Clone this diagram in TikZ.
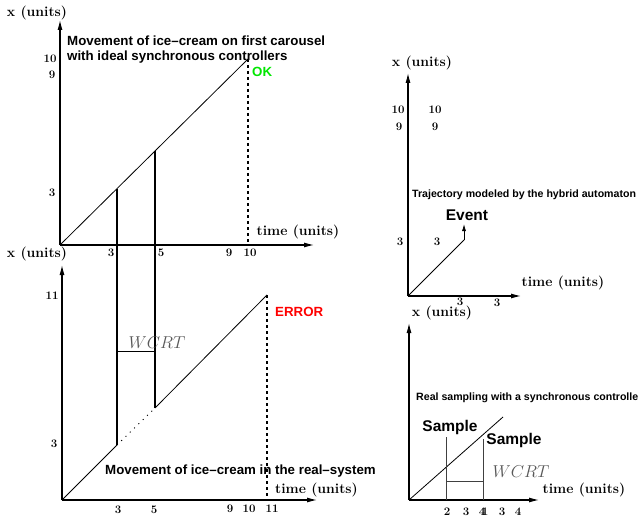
\documentclass[tikz,border=0pt]{standalone}
\usepackage{fontspec}
\newfontfamily\hv{Liberation Sans}
\usetikzlibrary{arrows.meta}
\begin{document}
\begin{tikzpicture}[x=1bp,y=-1bp,
  axis/.style={line width=1.1bp,-{Latex[length=10bp,width=5bp]}},
  serif/.style={font=\fontsize{14bp}{16bp}\selectfont\bfseries, inner sep=0},
  num/.style={font=\fontsize{11.5bp}{13bp}\selectfont\bfseries, inner sep=0},
  ttl/.style={font=\hv\fontsize{13.3bp}{15bp}\selectfont\bfseries, inner sep=0, anchor=west},
  smallttl/.style={font=\hv\fontsize{10.6bp}{12bp}\selectfont\bfseries, inner sep=0, anchor=west},
  big/.style={font=\hv\fontsize{15.5bp}{17bp}\selectfont\bfseries, inner sep=0},
  heavy/.style={line width=2.6bp},
  traj/.style={line width=0.8bp},
  bigdots/.style={line width=2.6bp, dash pattern=on 3bp off 3bp},
  finedots/.style={line width=0.9bp, dash pattern=on 1bp off 5bp},
  wcrt/.style={font=\fontsize{17bp}{19bp}\selectfont, text=black!65, inner sep=0},
  thinline/.style={line width=1bp, draw=black!75},
]
\useasboundingbox (0,0) rectangle (639,519);

% ---------- top-left graph ----------
\coordinate (O1) at (60,245);
\coordinate (Y1) at (60,20);
\coordinate (X1) at (314,245);
\coordinate (T1) at (248,59);
\coordinate (D1) at (248,245);
\draw[axis] (O1) -- (Y1);
\draw[axis] (O1) -- (X1);
\draw[traj] (O1) -- (T1);
\draw[bigdots] (T1) -- (D1);
\node[serif] (xl1) at (37,13) {x (units)};
\node[serif] (tl1) at (298,232) {time (units)};
\node[ttl] (tt1) at (67,41) {Movement of ice–cream on first carousel};
\node[ttl] (tt2) at (67,57) {with ideal synchronous controllers};
\node[ttl, text={rgb,255:red,0;green,230;blue,0}, anchor=west] (ok) at (252,72) {OK};
\node[num] (y10a) at (50,59) {10};
\node[num] (y9a) at (52,75) {9};
\node[num] (y3a) at (52,193) {3};
\node[num] (x3a) at (111,253) {3};
\node[num] (x5a) at (161,253) {5};
\node[num] (x9a) at (229,253) {9};
\node[num] (x10a) at (250,253) {10};

% ---------- bottom-left graph ----------
\coordinate (O2) at (62,500);
\coordinate (Y2) at (62,265);
\coordinate (X2) at (317,500);
\coordinate (A) at (117,445);
\coordinate (B) at (155,408);
\coordinate (T2) at (267,295);
\coordinate (D2) at (267,497);
\coordinate (Atop) at (117,188.6);
\coordinate (Btop) at (155,151);
\coordinate (W1) at (117,351);
\coordinate (W2) at (155,351);
\draw[axis] (O2) -- (Y2);
\draw[axis] (O2) -- (X2);
\draw[traj] (O2) -- (A);
\draw[finedots] (A) -- (B);
\draw[traj] (B) -- (T2);
\draw[bigdots] (T2) -- (D2);
\draw[heavy] (Atop) -- (A);
\draw[heavy] (Btop) -- (B);
\draw[line width=1bp] (W1) -- (W2);
\node[wcrt] (wc1) at (157,343) {$WCRT$};
\node[serif] (xl2) at (37,254) {x (units)};
\node[serif, anchor=west] (tl2) at (275,490) {time (units)};
\node[ttl] (tt3) at (105,471) {Movement of ice–cream in the real–system};
\node[ttl, text={rgb,255:red,255;green,0;blue,0}] (err) at (275,312) {ERROR};
\node[num] (y11b) at (52,296) {11};
\node[num] (y3b) at (54,444) {3};
\node[num] (x3b) at (118,510) {3};
\node[num] (x5b) at (154,510) {5};
\node[num] (x9b) at (230,509) {9};
\node[num] (x10b) at (249,509) {10};
\node[num] (x11b) at (272,509) {11};

% ---------- top-right graph ----------
\coordinate (O3) at (408,296);
\coordinate (Y3) at (408,73);
\coordinate (X3) at (521,296);
\coordinate (E1) at (464,240);
\coordinate (E2) at (464,224);
\draw[axis] (O3) -- (Y3);
\draw[axis] (O3) -- (X3);
\draw[traj] (O3) -- (E1);
\draw[traj, -{Latex[length=7bp,width=4bp]}] (E1) -- (E2);
\node[serif] (xl3) at (422,63) {x (units)};
\node[serif] (tl3) at (563,283) {time (units)};
\node[big] (ev) at (467,215) {Event};
\node[smallttl] (tt4) at (412,195) {Trajectory modeled by the hybrid automaton};
\node[num] (y10c) at (398,110) {10};
\node[num] (y10d) at (435,110) {10};
\node[num] (y9c) at (399,127) {9};
\node[num] (y9d) at (435,127) {9};
\node[num] (y3c) at (400,242) {3};
\node[num] (y3d) at (437,242) {3};
\node[num] (x3c) at (460,302) {3};
\node[num] (x3d) at (497,303) {3};

% ---------- bottom-right graph ----------
\coordinate (O4) at (409,500);
\coordinate (Y4) at (409,323);
\coordinate (X4) at (539,500);
\coordinate (T4) at (503,417);
\coordinate (S1t) at (446,437);
\coordinate (S1b) at (446,500);
\coordinate (S2t) at (483,439);
\coordinate (S2b) at (483,500);
\coordinate (V1) at (446,481);
\coordinate (V2) at (483,481);
\draw[axis] (O4) -- (Y4);
\draw[axis] (O4) -- (X4);
\draw[traj] (O4) -- (T4);
\draw[thinline] (S1t) -- (S1b);
\draw[thinline] (S2t) -- (S2b);
\draw[thinline] (V1) -- (V2);
\node[serif] (xl4) at (442,313) {x (units)};
\node[serif] (tl4) at (584,490) {time (units)};
\node[smallttl] (tt5) at (416,398) {Real sampling with a synchronous controlle};
\node[big] (sa1) at (450,427) {Sample};
\node[big] (sa2) at (514,440) {Sample};
\node[wcrt] (wc2) at (521,472) {$WCRT$};
\node[num] (x2e) at (447,512) {2};
\node[num] (x3e) at (466,512) {3};
\node[num] (x4e) at (482,512) {4};
\node[num] (x1e) at (485,512) {1};
\node[num] (x3f) at (502,512) {3};
\node[num] (x4f) at (518,512) {4};
\end{tikzpicture}
\end{document}
